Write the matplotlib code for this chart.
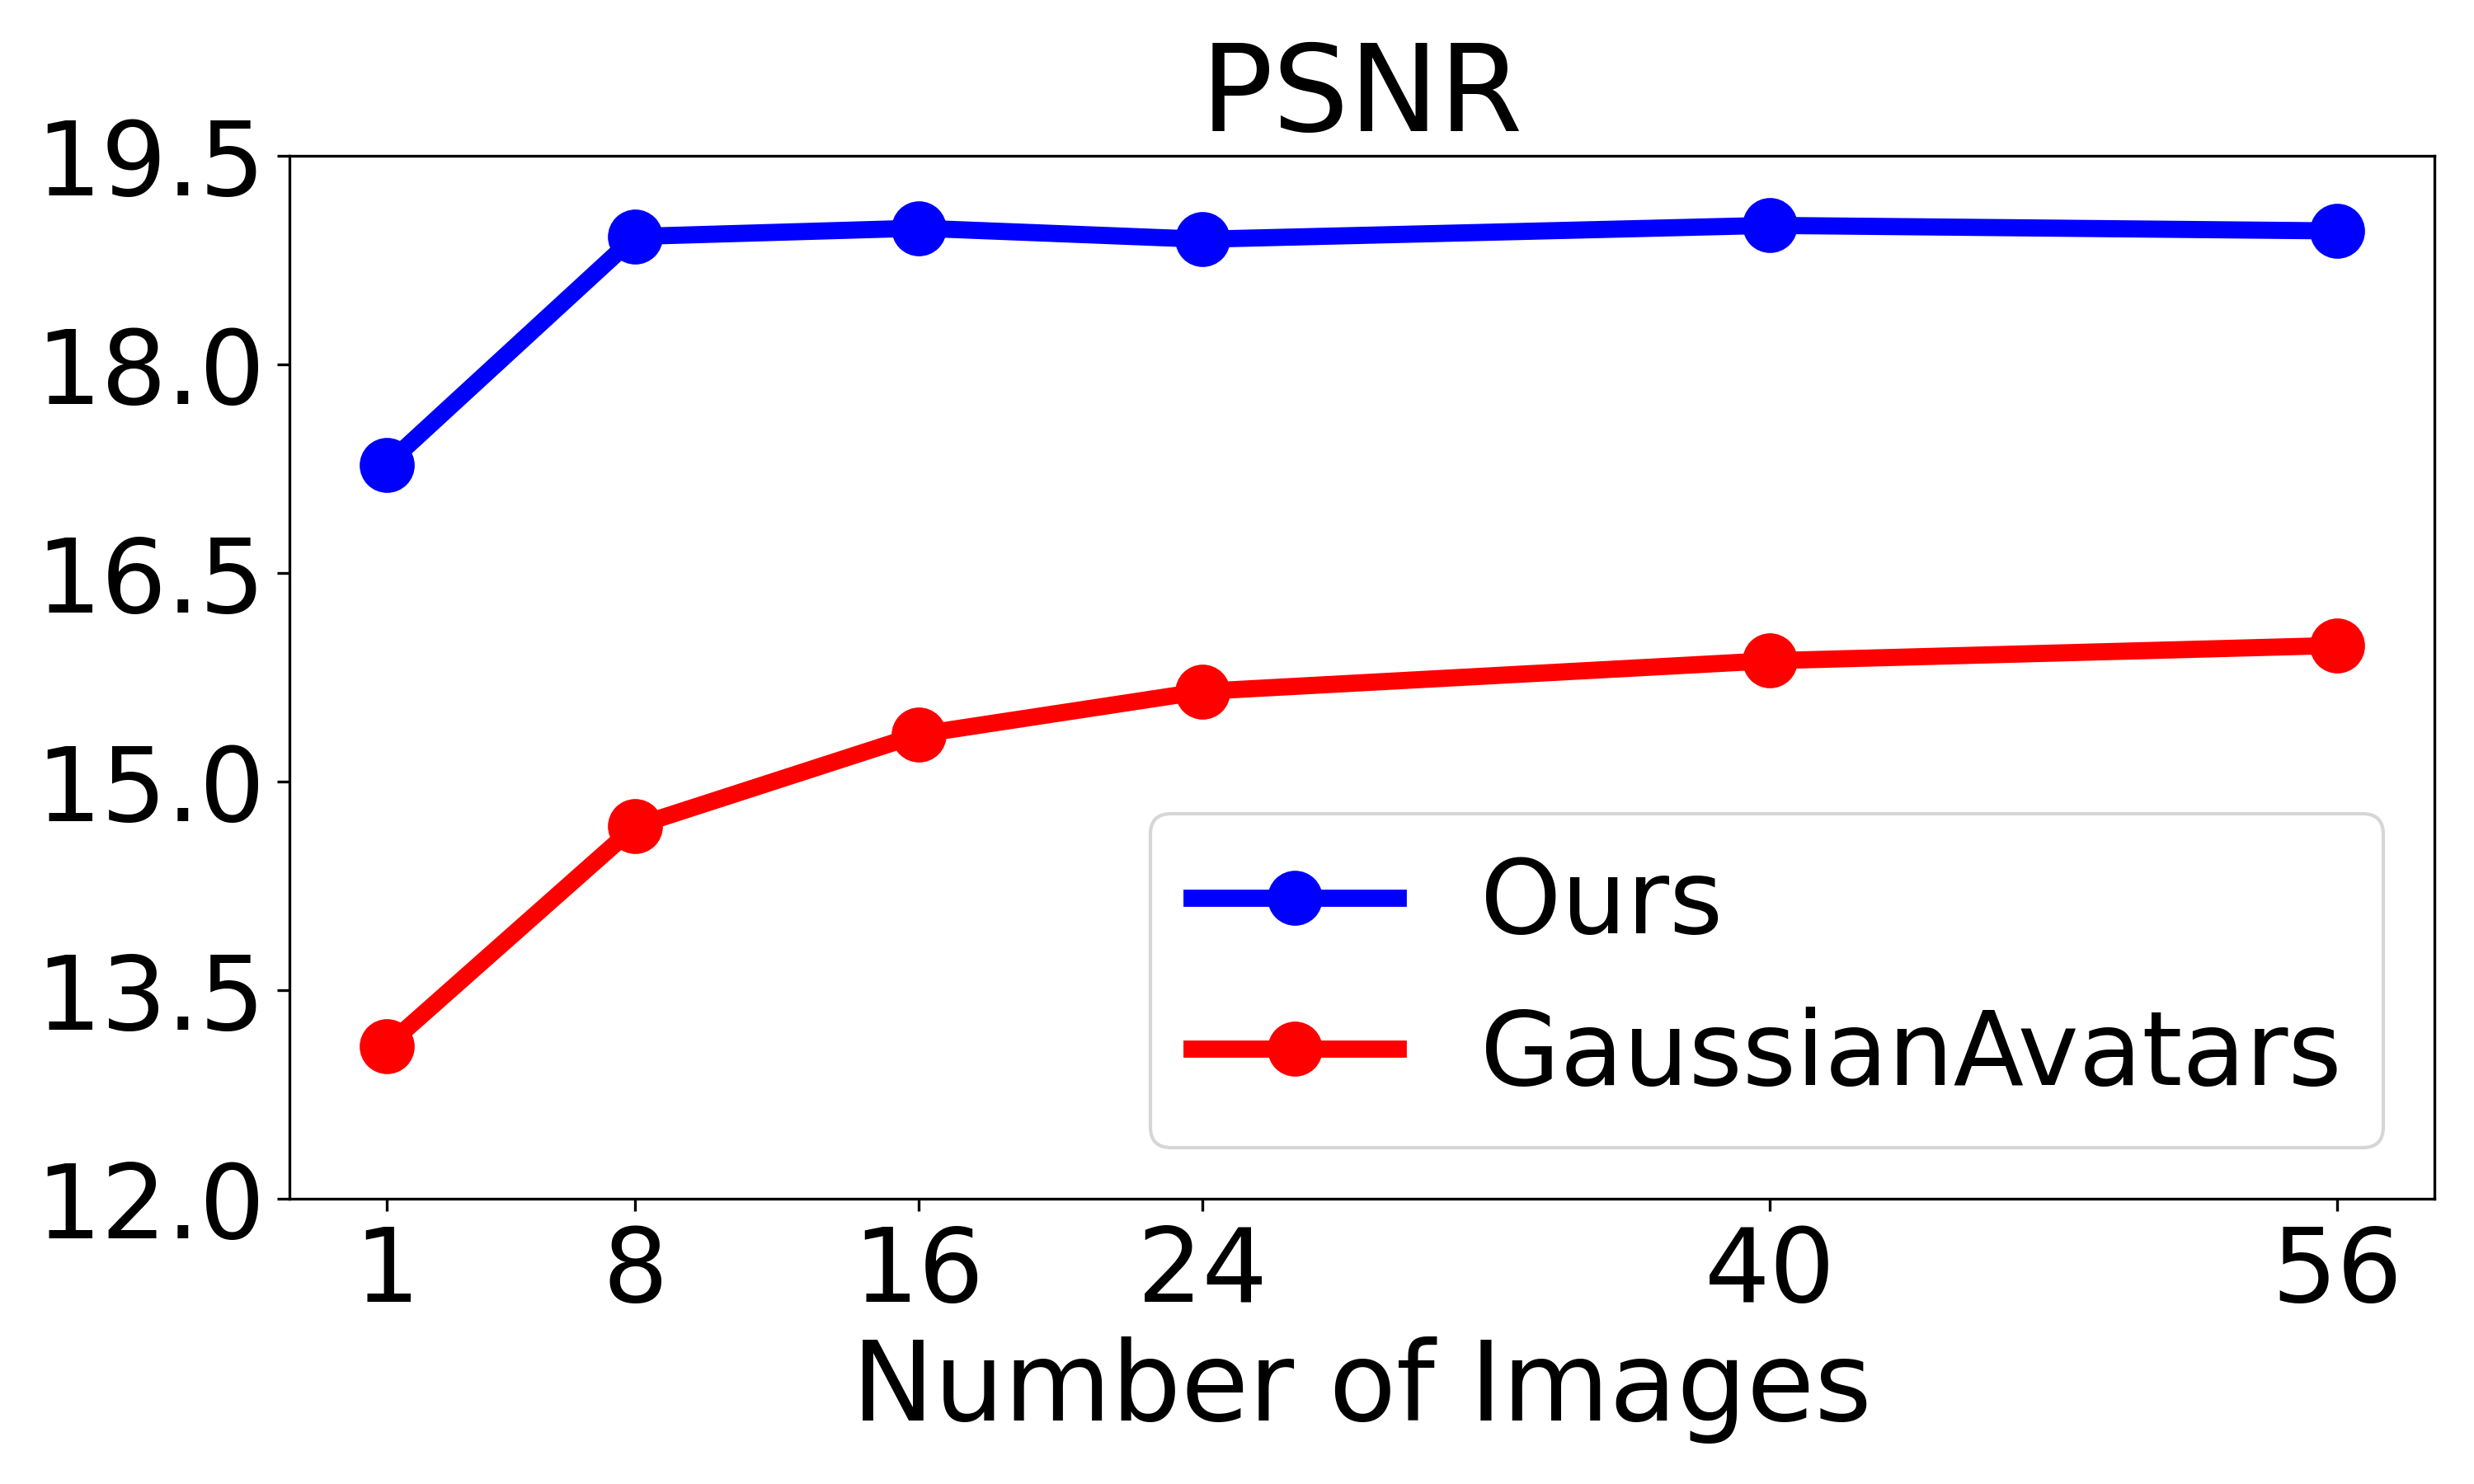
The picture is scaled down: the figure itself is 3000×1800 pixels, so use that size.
import matplotlib
matplotlib.use("Agg")
import matplotlib.pyplot as plt

num_images = [1, 8, 16, 24, 40, 56]
ours = [17.28, 18.92, 18.98, 18.90, 19.00, 18.96]
gaussian_avatars = [13.10, 14.68, 15.34, 15.65, 15.87, 15.98]
yticks = [12.0, 13.5, 15.0, 16.5, 18.0, 19.5]

fig, ax = plt.subplots(figsize=(10, 6), dpi=300)
fig.subplots_adjust(left=0.117, right=0.984, top=0.895, bottom=0.192)

ax.plot(num_images, ours, color='blue', marker='o', linewidth=5, markersize=15, label='Ours')
ax.plot(num_images, gaussian_avatars, color='red', marker='o', linewidth=5, markersize=15, label='GaussianAvatars')

ax.set_ylim(12.0, 19.5)
ax.set_yticks(yticks)
ax.set_xticks(num_images)
ax.tick_params(labelsize=30)
ax.set_xlabel('Number of Images', fontsize=32)
ax.set_title('PSNR', fontsize=35)
ax.legend(loc='lower right', fontsize=30)

plt.savefig('out.png', dpi=300)
